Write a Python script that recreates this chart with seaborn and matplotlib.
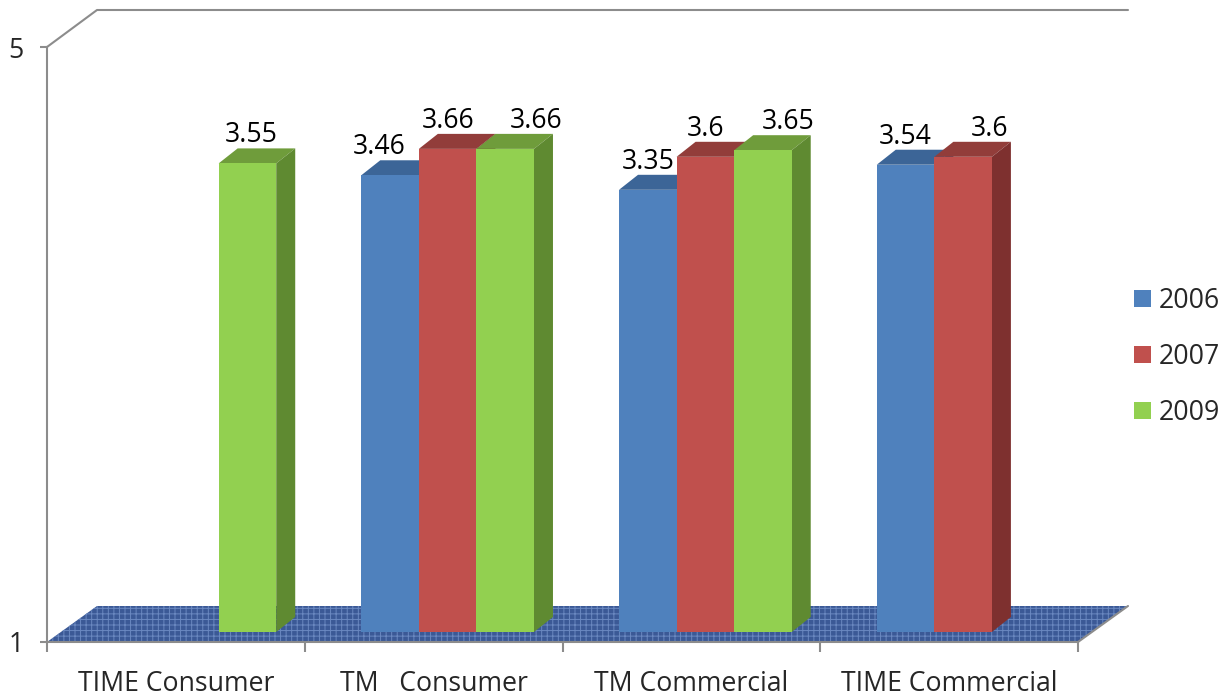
import numpy as np
import pandas as pd
import matplotlib
matplotlib.use("Agg")
import matplotlib.pyplot as plt
from matplotlib.patches import Polygon, Patch
from matplotlib.lines import Line2D
import seaborn as sns

# ---- data -------------------------------------------------------------
categories = ["TIME Consumer", "TM   Consumer", "TM Commercial", "TIME Commercial"]
years = ["2006", "2007", "2009"]
scores_2006 = [np.nan, 3.46, 3.35, 3.54]
scores_2007 = [np.nan, 3.66, 3.60, 3.60]
scores_2009 = [3.55, 3.66, 3.65, np.nan]
axis_ticks = [1, 5]

# ---- style ------------------------------------------------------------
front_color = {"2006": "#4F81BD", "2007": "#C0504D", "2009": "#92D050"}
top_color = {"2006": "#3C6597", "2007": "#923D3A", "2009": "#6F9C3B"}
side_color = {"2006": "#355A86", "2007": "#7E302F", "2009": "#5F8A31"}
wall_color = "#8C8C8C"
FS = 19.2

sns.set_style("white")
plt.rcParams["font.family"] = ["Open Sans", "DejaVu Sans"]
plt.rcParams["hatch.linewidth"] = 0.7

W, H = 1225, 698
fig = plt.figure(figsize=(W / 100, H / 100), dpi=100)


def fx(px):
    return px / W


def fy(py):
    return 1 - py / H


# front plane of the chart (value axis 1..5) and the 3-D depth
PL, PR, PT, PB = 47, 1078, 47, 642
DEPTH = (50, 36)          # floor depth in pixels (right, up)
BAR_SHIFT = (14, 10)      # bars stand a little behind the front edge
BAR_DEPTH = (19, 15)      # thickness of each bar
PX_PER_UNIT = 132         # vertical pixels per score unit for the bars

ax_val = fig.add_axes([fx(PL), fy(PB), (PR - PL) / W, (PB - PT) / H])
ax_val.patch.set_visible(False)
ax_val.set_ylim(1, 5)
ax_val.set_xlim(0, len(categories))
ax_val.set_yticks(axis_ticks)
ax_val.set_yticklabels([str(t) for t in axis_ticks], fontsize=FS)
ax_val.set_xticks(np.arange(len(categories) + 1))
ax_val.set_xticklabels([])
ax_val.set_xticks(np.arange(len(categories)) + 0.5, minor=True)
ax_val.set_xticklabels(categories, minor=True, fontsize=FS)
ax_val.tick_params(axis="y", which="major", direction="out", length=5,
                   width=1.5, color=wall_color, pad=12, left=True)
ax_val.tick_params(axis="x", which="major", direction="out", length=7.5,
                   width=1.5, color=wall_color, bottom=True)
ax_val.tick_params(axis="x", which="minor", length=0, pad=20.5)
for s in ["top", "right"]:
    ax_val.spines[s].set_visible(False)
for s in ["left", "bottom"]:
    ax_val.spines[s].set_color(wall_color)
    ax_val.spines[s].set_linewidth(1.5)

# textured floor
floor_pts = [(fx(PL), fy(PB)), (fx(PL + DEPTH[0]), fy(PB - DEPTH[1])),
             (fx(PR + DEPTH[0]), fy(PB - DEPTH[1])), (fx(PR), fy(PB))]
ax_val.add_artist(Polygon(floor_pts, closed=True, transform=fig.transFigure,
                          facecolor="#3B5996", edgecolor="#6A88C0",
                          hatch="+++", linewidth=0, clip_on=False, zorder=0.5))
ax_val.add_artist(Line2D([fx(PR), fx(PR + DEPTH[0])], [fy(PB), fy(PB - DEPTH[1])],
                         transform=fig.transFigure, color=wall_color, lw=1.5,
                         clip_on=False))
# back wall outline
ax_val.add_artist(Line2D([fx(PL), fx(PL + DEPTH[0]), fx(PR + DEPTH[0])],
                         [fy(PT), fy(PT - DEPTH[1] - 1), fy(PT - DEPTH[1] - 1)],
                         transform=fig.transFigure, color=wall_color, lw=1.5,
                         clip_on=False))

# ---- bars -------------------------------------------------------------
bar_left = PL + BAR_SHIFT[0]
bar_right = PR + BAR_SHIFT[0]
bar_bottom = PB - BAR_SHIFT[1]
bar_top = 10
ax_bar = fig.add_axes([fx(bar_left), fy(bar_bottom), (bar_right - bar_left) / W,
                       (bar_bottom - bar_top) / H])
ax_bar.patch.set_visible(False)
ax_bar.axis("off")

df = pd.DataFrame({
    "category": categories * 3,
    "year": [y for y in years for _ in categories],
    "score": scores_2006 + scores_2007 + scores_2009,
})
sns.barplot(data=df, x="category", y="score", hue="year", order=categories,
            hue_order=years, palette=front_color, saturation=1, width=0.67,
            linewidth=0, legend=False, ax=ax_bar)
ax_bar.set_xlim(-0.5, len(categories) - 0.5)
ax_bar.set_ylim(0, (bar_bottom - bar_top) / PX_PER_UNIT)

px_per_x = (bar_right - bar_left) / len(categories)
ddx = BAR_DEPTH[0] / px_per_x
ddy = BAR_DEPTH[1] / PX_PER_UNIT

rgba_to_year = {matplotlib.colors.to_hex(c): y for y, c in front_color.items()}
bars = [p for p in ax_bar.patches if np.isfinite(p.get_height()) and p.get_height() > 0]
bars.sort(key=lambda p: p.get_x())

# label nudges (pixels) so neighbouring labels do not collide
label_nudge = {(0, "2009"): 4, (1, "2006"): -11, (1, "2009"): 31,
               (2, "2009"): 25, (3, "2007"): 26}

for i, p in enumerate(bars):
    year = rgba_to_year[matplotlib.colors.to_hex(p.get_facecolor())]
    x0, w, h = p.get_x(), p.get_width(), p.get_height()
    z = 3 + i * 0.1
    p.set_zorder(z + 0.05)
    ax_bar.add_patch(Polygon([(x0, h), (x0 + w, h), (x0 + w + ddx, h + ddy),
                              (x0 + ddx, h + ddy)], closed=True,
                             facecolor=top_color[year], linewidth=0, zorder=z))
    ax_bar.add_patch(Polygon([(x0 + w, 0), (x0 + w + ddx, ddy),
                              (x0 + w + ddx, h + ddy), (x0 + w, h)], closed=True,
                             facecolor=side_color[year], linewidth=0, zorder=z))
    cat_idx = int(round(x0 + w / 2))
    ax_bar.annotate(f"{h:g}", xy=(x0 + w / 2, h),
                    xytext=(label_nudge.get((cat_idx, year), 0), 21),
                    textcoords="offset pixels", ha="center", va="baseline",
                    fontsize=FS, color="black", zorder=10)

# ---- legend -----------------------------------------------------------
handles = [Patch(facecolor=front_color[y], edgecolor="none", label=y) for y in years]
fig.legend(handles=handles, loc="center left", bbox_to_anchor=(fx(1110), fy(357)),
           frameon=False, fontsize=FS, handlelength=0.64, handleheight=0.64,
           handletextpad=0.28, labelspacing=1.05)

fig.savefig("out.png", dpi=100)
